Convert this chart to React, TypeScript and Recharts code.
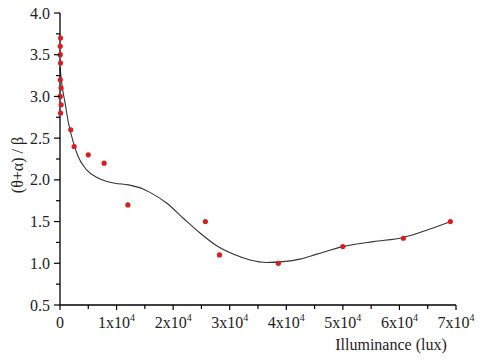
import { ComposedChart, Line, Scatter, XAxis, YAxis } from "recharts";

// measured points (lux, (θ+α)/β)
const pointLux = [100, 50, 50, 100, 50, 200, 50, 200, 100, 1900, 2500, 5000, 7800, 12000, 25700, 28200, 38600, 50000, 60700, 69000];
const pointVal = [3.7, 3.6, 3.5, 3.4, 3.2, 3.1, 3.0, 2.9, 2.8, 2.6, 2.4, 2.3, 2.2, 1.7, 1.5, 1.1, 1.0, 1.2, 1.3, 1.5];

// fitted curve
const fitLux = [0, 300, 900, 1500, 2400, 3200, 4700, 6800, 9700, 12100, 14700, 15900, 18900, 21800, 24800, 27700, 30600, 33600, 36500, 39500, 42400, 45400, 50000, 55400, 60700, 65400, 69100];
const fitVal = [3.35, 3.16, 2.92, 2.68, 2.44, 2.28, 2.12, 2.02, 1.96, 1.94, 1.89, 1.85, 1.72, 1.54, 1.36, 1.21, 1.11, 1.04, 1.01, 1.02, 1.05, 1.11, 1.2, 1.26, 1.31, 1.41, 1.5];

const xTicks = [0, 5000, 10000, 15000, 20000, 25000, 30000, 35000, 40000, 45000, 50000, 55000, 60000, 65000, 70000];
const yTicks = [0.5, 0.75, 1, 1.25, 1.5, 1.75, 2, 2.25, 2.5, 2.75, 3, 3.25, 3.5, 3.75, 4];

const FONT = "Liberation Serif";
const txt = { fontFamily: FONT, fontSize: 16, fill: "#222" };

const points = pointLux.map((x, i) => ({ x, y: pointVal[i] }));
const fit = fitLux.map((x, i) => ({ x, y: fitVal[i] }));

const XTick = ({ x, y, payload }: any) => {
  const v = payload.value;
  const major = v % 10000 === 0;
  return (
    <g>
      <line x1={x} x2={x} y1={y} y2={y + (major ? 5 : 4)} stroke="#000" strokeWidth={1.2} />
      {major && (
        <text x={x} y={y + 23} textAnchor="middle" style={txt}>
          {v === 0 ? "0" : <>{v / 10000}x10<tspan dy={-7} style={{ fontSize: 10 }}>4</tspan></>}
        </text>
      )}
    </g>
  );
};

const YTick = ({ x, y, payload }: any) => {
  const v = payload.value;
  const major = Math.round(v * 4) % 2 === 0;
  return (
    <g>
      <line x1={x} x2={x - (major ? 6 : 4)} y1={y} y2={y} stroke="#000" strokeWidth={1.2} />
      {major && (
        <text x={x - 10} y={y + 5.5} textAnchor="end" style={txt}>
          {v.toFixed(1)}
        </text>
      )}
    </g>
  );
};

const Dot = ({ cx, cy }: any) => <circle cx={cx} cy={cy} r={2.6} fill="#d81e1e" />;

export default function App() {
  return (
    <div style={{ position: "absolute", left: 0, top: 0, background: "#fff", fontFamily: FONT }}>
      <ComposedChart width={480} height={362} margin={{ top: 13, right: 24, left: 0, bottom: 0 }}>
        <XAxis
          type="number" dataKey="x" domain={[0, 70000]} ticks={xTicks} interval={0}
          height={57} tickSize={0} tickMargin={0} tick={<XTick />}
          axisLine={{ stroke: "#000", strokeWidth: 1.3 }}
          label={() => (
            <text x={391} y={350} textAnchor="middle" style={txt}>
              Illuminance (lux)
            </text>
          )}
        />
        <YAxis
          type="number" dataKey="y" domain={[0.5, 4]} ticks={yTicks} interval={0}
          width={60} tickSize={0} tickMargin={0} tick={<YTick />}
          axisLine={{ stroke: "#000", strokeWidth: 1.3 }}
          label={() => (
            <text x={0} y={0} transform="translate(23,165) rotate(-90)" textAnchor="middle" style={txt}>
              (θ+α) / β
            </text>
          )}
        />
        <Line data={fit} dataKey="y" type="monotone" stroke="#333" strokeWidth={1.1} dot={false} isAnimationActive={false} />
        <Scatter data={points} dataKey="y" shape={<Dot />} isAnimationActive={false} />
      </ComposedChart>
    </div>
  );
}
